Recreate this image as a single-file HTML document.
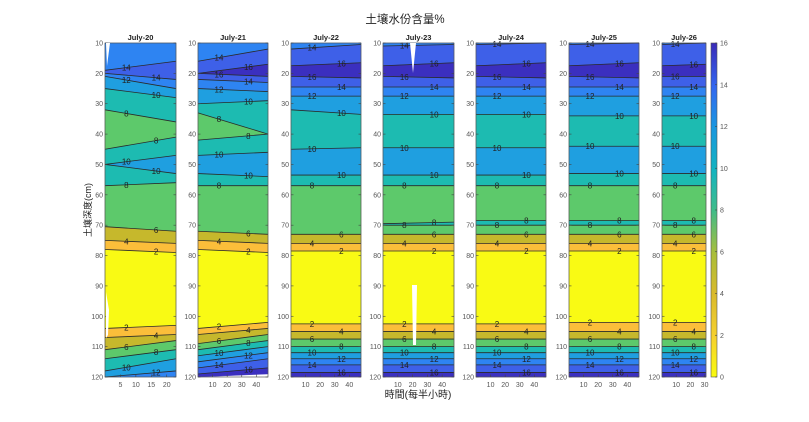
<!DOCTYPE html>
<html><head><meta charset="utf-8"><style>
body{margin:0;background:#fff;}
svg{display:block;font-family:"Liberation Sans","Noto Sans CJK TC",sans-serif;}
</style></head><body>
<svg id="chart" width="809" height="422" viewBox="0 0 809 422" xmlns="http://www.w3.org/2000/svg">
<defs>
<linearGradient id="parula" x1="0" y1="1" x2="0" y2="0">
<stop offset="0" stop-color="#f9fb0e"/><stop offset="0.12" stop-color="#f6d12f"/><stop offset="0.25" stop-color="#d9ba2c"/>
<stop offset="0.37" stop-color="#a9be3a"/><stop offset="0.5" stop-color="#3fbc8a"/><stop offset="0.62" stop-color="#13b4c0"/>
<stop offset="0.75" stop-color="#1a96e0"/><stop offset="0.87" stop-color="#3366f0"/><stop offset="1" stop-color="#3a2bb8"/>
</linearGradient>
</defs>
<text x="405" y="23" font-size="11.5" text-anchor="middle" fill="#222">土壤水份含量%</text>
<text x="418" y="398" font-size="10" text-anchor="middle" fill="#222">時間(每半小時)</text>
<text transform="translate(91,210) rotate(-90)" font-size="9" text-anchor="middle" fill="#222">土壤深度(cm)</text>
<g id="panels"></g>
<g id="cbar"></g>
</svg>
<script>
const panelTitles = ["July-20","July-21","July-22","July-23","July-24","July-25","July-26"];
const xMax = [23, 48, 48, 48, 48, 48, 31];
const xTicks = [[5,10,15,20],[10,20,30,40],[10,20,30,40],[10,20,30,40],[10,20,30,40],[10,20,30,40],[10,20,30]];
const depthTicks = [10,20,30,40,50,60,70,80,90,100,110,120];
const colorTicks = [0,2,4,6,8,10,12,14,16];
// band lower levels (top to bottom) and boundary depths [left,right]
const bands = [
 [12,14,12,10,8,6,8,10,8,6,4,2,0,2,4,6,8,10,12],
 [12,14,16,14,12,10,8,6,8,10,8,6,4,2,0,2,4,6,8,10,12,14,16],
 [12,14,16,14,12,10,8,10,8,6,4,2,0,2,4,6,8,10,12,14,16],
 [12,14,16,14,12,10,8,10,8,6,8,6,4,2,0,2,4,6,8,10,12,14,16],
 [12,14,16,14,12,10,8,10,8,6,8,6,4,2,0,2,4,6,8,10,12,14,16],
 [12,14,16,14,12,10,8,10,8,6,8,6,4,2,0,2,4,6,8,10,12,14,16],
 [12,14,16,14,12,10,8,10,8,6,8,6,4,2,0,2,4,6,8,10,12,14,16]
];
const bounds = [
 [[10,10],[19,16],[20,22],[21,25],[25,28],[32,36],[45,41],[50,47],[50,53],[57,56],[70.5,72],[75,76],[78,79],[104,103],[107,106],[111,108],[114,111],[118,114],[120,118],[120,120]],
 [[10,10],[16,12],[20,17],[20,21],[22,23],[25,26],[30,29],[33,40],[42,40],[47,46],[53,54],[57,57],[72,73],[75,76],[78,79],[104,102],[106,104],[109,106],[111,108],[113,110],[115,112],[117,114],[119,117],[120,119]],
 [[10,10],[12,10.5],[17.5,16.5],[21,21.5],[24.5,24.5],[27.5,27.5],[32,33.5],[45,44.5],[53.5,53.5],[57,57],[73,73],[76,76],[78.5,78.5],[102.5,102.5],[105,105],[107.5,107.5],[110,110],[112,112],[114,114],[116,116],[118.5,118.5],[120,120]],
 [[10,10],[11,10.5],[17.5,16.5],[21,21.5],[24.5,24.5],[27.5,27.5],[33.5,33.5],[44.5,44.5],[53.5,53.5],[57,57],[69.5,69],[70,70],[73,73],[76,76],[78.5,78.5],[102.5,102.5],[105,105],[107.5,107.5],[110,110],[112,112],[114,114],[116,116],[118.5,118.5],[120,120]],
 [[10,10],[10.5,10],[17.5,16.5],[21,21.5],[24.5,24.5],[27.5,27.5],[33.5,33.5],[44.5,44.5],[53.5,53.5],[57,57],[68.5,68.5],[70,70],[73,73],[76,76],[78.5,78.5],[102.5,102.5],[105,105],[107.5,107.5],[110,110],[112,112],[114,114],[116,116],[118.5,118.5],[120,120]],
 [[10,10],[10.5,10],[17.5,16.5],[21,21.5],[24.5,24.5],[27.5,27.5],[34,34],[44,44],[53,53],[57,57],[68.5,68.5],[70,70],[73,73],[76,76],[78.5,78.5],[102,102],[105,105],[107.5,107.5],[110,110],[112,112],[114,114],[116,116],[118.5,118.5],[120,120]],
 [[10,10],[10.5,10],[17.5,17],[21,21],[24.5,24.5],[27.5,27.5],[34,34],[44,44],[53,53],[57,57],[68.5,68.5],[70,70],[73,73],[76,76],[78.5,78.5],[102,102],[105,105],[107.5,107.5],[110,110],[112,112],[114,114],[116,116],[118.5,118.5],[120,120]]
];
const panelX = [[105,176],[198,268],[291,361],[383,454],[476,546],[569,639],[662,706]];
const Y0 = 43, Y1 = 377;
const colors = {0:"#f9fa14",2:"#fbbe3a",4:"#c6b82c",6:"#5dc96b",8:"#1dbbb1",10:"#1f9fe0",12:"#2e84f2",14:"#3e60e8",16:"#3b2fbf"};
function yScale(d){return Y0+(d-10)/(120-10)*(Y1-Y0);}
const NS="http://www.w3.org/2000/svg";
function mk(tag,attrs,parent){const e=document.createElementNS(NS,tag);for(const k in attrs)e.setAttribute(k,attrs[k]);parent.appendChild(e);return e;}
const root=document.getElementById('panels');
for(let p=0;p<7;p++){
  const [xl,xr]=panelX[p];
  const g=mk('g',{},root);
  
  
  const B=bounds[p], V=bands[p];
  for(let i=0;i<V.length;i++){
    const a=B[i], b=B[i+1];
    const poly=mk('polygon',{points:`${xl},${yScale(a[0])} ${xr},${yScale(a[1])} ${xr},${yScale(b[1])} ${xl},${yScale(b[0])}`,fill:colors[V[i]],stroke:colors[V[i]],'stroke-width':0.4},g);
    
    
  }
  for(let i=1;i<B.length-1;i++){
    const ln=mk('line',{x1:xl,y1:yScale(B[i][0]),x2:xr,y2:yScale(B[i][1]),stroke:'#2a2a2a','stroke-width':0.8},g);
    
    
    const lv=Math.max(V[i-1],V[i]);
    if(lv===0) continue;
    const f=(i%2===0)?0.72:0.3;
    const d=B[i][0]+(B[i][1]-B[i][0])*f;
    const t=mk('text',{x:xl+(xr-xl)*f,y:yScale(d)+3,'font-size':8,'text-anchor':'middle',fill:'#222'},g);
    t.textContent=lv;
    
    
  }
  mk('rect',{x:xl,y:Y0,width:xr-xl,height:Y1-Y0,fill:'none',stroke:'#555','stroke-width':0.7},g);
  const tt=mk('text',{x:(xl+xr)/2,y:Y0-3,'font-size':7.5,'font-weight':'bold','text-anchor':'middle',fill:'#222'},g);
  tt.textContent=panelTitles[p];
  
  
  depthTicks.forEach(d=>{
    const y=yScale(d);
    mk('line',{x1:xl,y1:y,x2:xl+2.5,y2:y,stroke:'#444','stroke-width':0.6},g);
    mk('line',{x1:xr,y1:y,x2:xr-2.5,y2:y,stroke:'#444','stroke-width':0.6},g);
    const t=mk('text',{x:xl-2,y:y+2.5,'font-size':7,'text-anchor':'end',fill:'#555'},g);
    t.textContent=d;
    
    
  });
  xTicks[p].forEach(v=>{
    const x=xl+(v/xMax[p])*(xr-xl);
    mk('line',{x1:x,y1:Y1,x2:x,y2:Y1-2.5,stroke:'#444','stroke-width':0.6},g);
    const t=mk('text',{x:x,y:Y1+10,'font-size':7,'text-anchor':'middle',fill:'#555'},g);
    t.textContent=v;
    
    
  });
}
// missing-data gaps
const gaps=[[0,[[106,43],[110,43],[107,66]]],[0,[[106,292],[109,310],[108,335],[106,338]]],[3,[[410,43],[416,43],[413,73]]],[3,[[412,285],[417,285],[416,345],[413,345]]]];
gaps.forEach(gp=>{
  const pg=mk('polygon',{points:gp[1].map(q=>q.join(',')).join(' '),fill:'#fff'},root);
  
  
});
// colorbar
const cb=document.getElementById('cbar');
const cx0=711,cx1=717;
const cr=mk('rect',{x:cx0,y:Y0,width:cx1-cx0,height:Y1-Y0,fill:'url(#parula)',stroke:'#555','stroke-width':0.6},cb);


colorTicks.forEach(v=>{
  const y=Y1-(v/16)*(Y1-Y0);
  mk('line',{x1:cx1,y1:y,x2:cx1-2,y2:y,stroke:'#444','stroke-width':0.6},cb);
  const t=mk('text',{x:cx1+3,y:y+2.5,'font-size':7,fill:'#555'},cb);
  t.textContent=v;
  
  
});
</script>
</body></html>
